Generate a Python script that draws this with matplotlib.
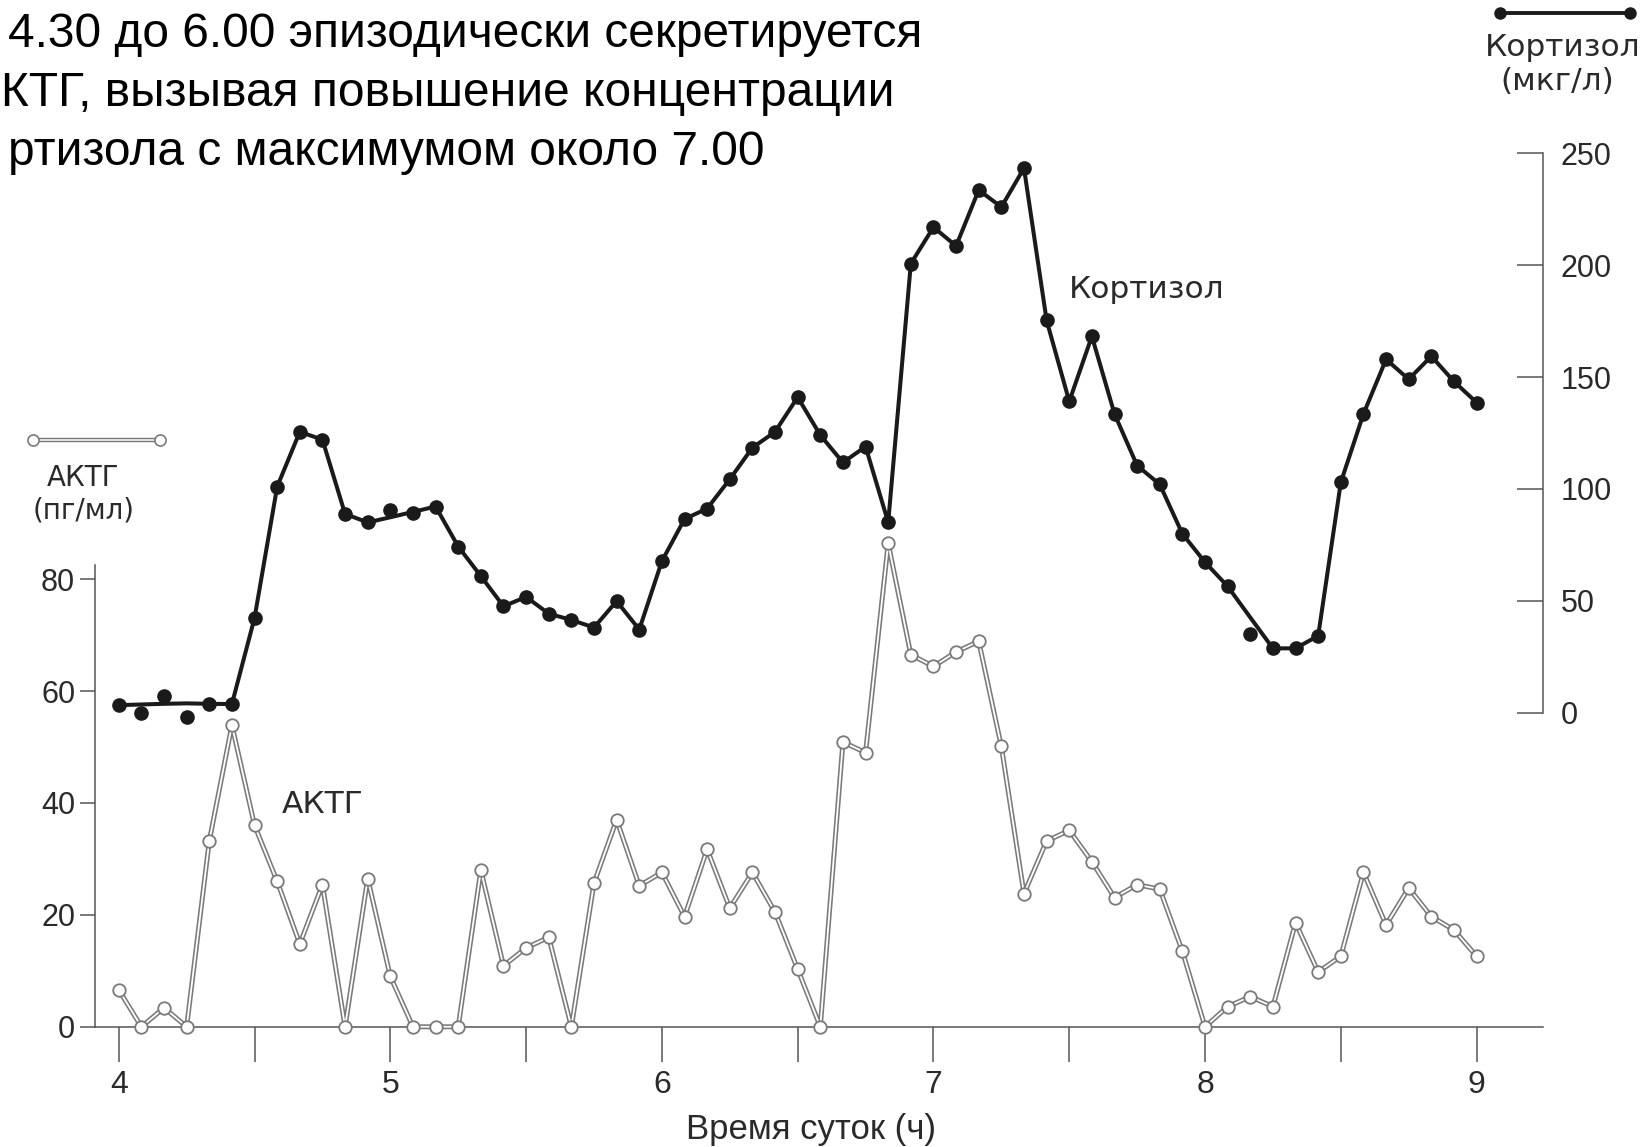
import numpy as np
import matplotlib
matplotlib.use('Agg')
import matplotlib.pyplot as plt
from matplotlib import font_manager
from matplotlib.lines import Line2D

# Fonts: Liberation for caption and ticks, DejaVu (wider) for the chart labels
names = set(f.name for f in font_manager.fontManager.ttflist)
narrow = 'Liberation Sans Narrow' if 'Liberation Sans Narrow' in names else 'Liberation Sans'
plt.rcParams['font.family'] = ['Liberation Sans', 'DejaVu Sans']
label_font = 'DejaVu Sans'

# Sampling times: every 5 minutes from 4.00 to 9.00
sample_min = list(range(0, 301, 5))
hours = 4 + np.array(sample_min) / 60.0

# ACTH (pg/ml)
acth = [6.6, 0.0, 3.4, 0.0, 33.2, 53.9, 36.0, 26.0, 14.8, 25.4,
        0.0, 26.5, 9.0, 0.0, 0.0, 0.0, 28.0, 10.9, 14.1, 16.0,
        0.0, 25.7, 37.0, 25.2, 27.6, 19.7, 31.7, 21.2, 27.6, 20.5,
        10.3, 0.0, 50.9, 49.0, 86.4, 66.5, 64.4, 67.0, 68.9, 50.1,
        23.8, 33.2, 35.1, 29.5, 23.1, 25.4, 24.6, 13.5, 0.0, 3.6,
        5.4, 3.6, 18.6, 9.8, 12.6, 27.6, 18.2, 24.8, 19.7, 17.3, 12.6]

# Cortisol (mcg/l) measured points
cortisol = [3.3, 0.0, 7.5, -2.0, 3.8, 3.8, 42.3, 101, 125.5, 122,
            88.8, 85, 90.7, 89.3, 92.1, 74.2, 61, 47.5, 51.7, 44.2,
            41.4, 38, 49.8, 37.1, 67.7, 86.5, 91.2, 104.3, 118.4, 125.5,
            141, 124, 111.8, 118.9, 85, 200.7, 217, 208.6, 233.6, 226,
            243.4, 175.3, 139.1, 168.2, 133.5, 110.4, 102, 79.9, 67.2, 56.4,
            35.2, 28.7, 28.7, 34.3, 102.9, 133.5, 157.9, 149, 159.3, 148, 138.6]

# Cortisol hand-drawn trend line (passes near, not always through, the points)
cortisol_line = [3.3, 3.6, 3.9, 4.1, 3.9, 3.8, 42.3, 101, 125.5, 122,
                 88.8, 85, 87.3, 89.7, 92.1, 74.2, 61, 47.5, 51.7, 44.2,
                 41.4, 38, 49.8, 37.1, 67.7, 86.5, 91.2, 104.3, 118.4, 125.5,
                 141, 124, 111.8, 118.9, 85, 200.7, 217, 208.6, 233.6, 226,
                 243.4, 175.3, 139.1, 168.2, 133.5, 110.4, 102, 79.9, 67.2, 56.4,
                 42.5, 28.7, 28.7, 34.3, 102.9, 133.5, 157.9, 149, 159.3, 148, 138.6]

acth_ticks = [0, 20, 40, 60, 80]
cort_ticks = [0, 50, 100, 150, 200, 250]
hour_ticks = [4, 4.5, 5, 5.5, 6, 6.5, 7, 7.5, 8, 8.5, 9]
hour_labels = ['4', '', '5', '', '6', '', '7', '', '8', '', '9']

# Caption as visible on the (left-cropped) slide: (hidden prefix, visible text)
title_lines = [('С ', '4.30 до 6.00 эпизодически секретируется'),
               ('', 'КТГ, вызывая повышение концентрации'),
               ('ко', 'ртизола с максимумом около 7.00')]

axis_col = '#555555'
text_col = '#2a2a2a'
acth_col = '#7a7a7a'

fig = plt.figure(figsize=(16.48, 11.47), dpi=100)
ax = fig.add_axes([0.0574, 0.1048, 0.8788, 0.7615])
ax.patch.set_alpha(0)

# ACTH: hollow grey line with open circles
ax.plot(hours, acth, color=acth_col, lw=3.6, solid_capstyle='round', clip_on=False, zorder=2)
ax.plot(hours, acth, color='white', lw=1.3, clip_on=False, zorder=3)
ax.plot(hours, acth, ls='none', marker='o', ms=9, mfc='white', mec=acth_col, mew=1.3,
        clip_on=False, zorder=4)

ax.set_xlim(3.911, 9.244)
ax.set_ylim(0, 156.1)

for s in ['top', 'right']:
    ax.spines[s].set_visible(False)
ax.spines['left'].set_bounds(0, 82.5)
ax.spines['left'].set_color(axis_col)
ax.spines['bottom'].set_color(axis_col)
ax.spines['left'].set_linewidth(1.1)
ax.spines['bottom'].set_linewidth(1.1)

ax.set_yticks(acth_ticks)
ax.tick_params(axis='y', direction='out', length=11, width=1.1, color=axis_col,
               labelsize=22, pad=3, labelcolor=text_col)
ax.set_xticks(hour_ticks)
ax.set_xticklabels(hour_labels, fontfamily=narrow)
ax.tick_params(axis='x', direction='out', length=25, width=1.1, color=axis_col,
               labelsize=23, pad=6, labelcolor=text_col)

ax.set_xlabel('Время суток (ч)', fontsize=25, family=narrow, color=text_col, va='center')
ax.xaxis.set_label_coords(0.495, -0.118)

# Cortisol on the right axis
ax2 = ax.twinx()
ax2.plot(hours, cortisol_line, color='#1a1a1a', lw=2.9, zorder=5)
ax2.plot(hours, cortisol, ls='none', marker='o', ms=9.5, color='#1a1a1a', zorder=6)
ax2.set_ylim(-140.5, 250)
for s in ['top', 'left', 'bottom']:
    ax2.spines[s].set_visible(False)
ax2.spines['right'].set_bounds(0, 250)
ax2.spines['right'].set_color(axis_col)
ax2.spines['right'].set_linewidth(1.1)
ax2.set_yticks(cort_ticks)
ax2.tick_params(axis='y', direction='in', length=19, width=1.1, color=axis_col,
                labelsize=22, pad=13, labelcolor=text_col)

# In-plot labels
ax2.text(7.786, 189, 'Кортизол', fontsize=22.5, family=label_font, color=text_col,
         ha='center', va='center')
ax.text(4.75, 39.8, 'АКТГ', fontsize=22.5, family=label_font, color=text_col,
        ha='center', va='center')

# Series keys in the corners
fig.add_artist(Line2D([33 / 1648, 160 / 1648], [1 - 440 / 1147, 1 - 440 / 1147],
                      color=acth_col, lw=3.2))
fig.add_artist(Line2D([33 / 1648, 160 / 1648], [1 - 440 / 1147, 1 - 440 / 1147],
                      color='white', lw=1.1, marker='o', ms=8, mfc='white', mec=acth_col, mew=1.2))
fig.text(83 / 1648, 1 - 478 / 1147, 'АКТГ', fontsize=20, family=label_font, color=text_col,
         ha='center', va='center')
fig.text(84 / 1648, 1 - 511 / 1147, '(пг/мл)', fontsize=20, family=label_font, color=text_col,
         ha='center', va='center')

fig.add_artist(Line2D([1500 / 1648, 1630 / 1648], [1 - 13 / 1147, 1 - 13 / 1147],
                      color='#1a1a1a', lw=2.8, marker='o', ms=8))
fig.text(1563 / 1648, 1 - 47 / 1147, 'Кортизол', fontsize=22.5, family=label_font, color=text_col,
         ha='center', va='center')
fig.text(1557 / 1648, 1 - 82 / 1147, '(мкг/л)', fontsize=22.5, family=label_font, color=text_col,
         ha='center', va='center')

# Caption: the slide is cropped on the left, so each line starts where its
# visible part begins (offset by the width of the hidden prefix)
renderer = fig.canvas.get_renderer()
cap_size = 34.5
left_px = -40


def text_width(s):
    t = fig.text(0, 0, s, fontsize=cap_size)
    w = t.get_window_extent(renderer).width
    t.remove()
    return w


for i, (prefix, visible) in enumerate(title_lines):
    if prefix:
        x_px = left_px + text_width(prefix + visible[0]) - text_width(visible[0])
    else:
        x_px = 1
    x_px = max(x_px, 1)
    fig.text(x_px / 1648, 1 - (47 + 59 * i) / 1147, visible, fontsize=cap_size, color='black',
             ha='left', va='baseline')

fig.savefig('out.png', dpi=100)
plt.close('all')
